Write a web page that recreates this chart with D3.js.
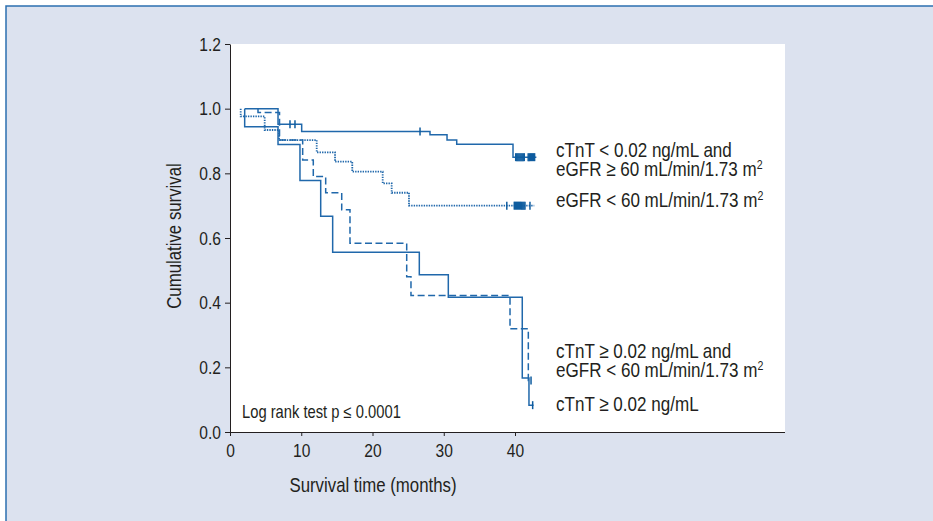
<!DOCTYPE html>
<html>
<head>
<meta charset="utf-8">
<script src="https://cdn.jsdelivr.net/npm/d3@7/dist/d3.min.js"></script>
<style>
  body { margin: 0; background: #fff; }
  svg text { font-family: "Liberation Sans", Arial, sans-serif; fill: #231f20; }
</style>
</head>
<body>
<script>
'use strict';

// Kaplan-Meier steps (months, cumulative survival)
const timesLowRisk = [2.06, 6.74, 10.06, 28.07, 30.46, 31.82, 39.72, 43.0]
const survLowRisk = [1.0, 0.952, 0.929, 0.919, 0.903, 0.890, 0.850, 0.850]
const censorLowRisk = [8.42, 9.12, 26.67, 40.1, 40.25, 40.4, 40.55, 40.7, 40.85, 41.0, 41.15, 41.3,
  41.85, 42.0, 42.15, 42.3, 42.45, 42.6, 42.75]

const timesEgfr = [1.5, 1.5, 4.87, 6.88, 12.17, 14.74, 17.16, 21.43, 22.69, 25.12, 42.7]
const survEgfr = [1.0, 0.976, 0.934, 0.903, 0.865, 0.836, 0.805, 0.769, 0.740, 0.700, 0.700]
const censorEgfr = [38.85, 39.9, 40.05, 40.2, 40.35, 40.5, 40.65, 40.8, 40.95, 41.1, 41.25, 41.4, 42.1]

const timesBoth = [3.93, 3.93, 6.95, 10.2, 11.69, 13.43, 15.68, 16.84, 24.8, 25.4, 39.3, 41.87, 42.4]
const survBoth = [1.0, 0.988, 0.903, 0.841, 0.790, 0.740, 0.687, 0.584, 0.480, 0.422, 0.319, 0.159, 0.159]
const censorBoth = [42.25]

const timesTnt = [2.06, 2.06, 6.74, 9.82, 12.73, 14.41, 26.57, 30.64, 41.02, 41.96, 42.6]
const survTnt = [1.0, 0.944, 0.889, 0.778, 0.667, 0.556, 0.486, 0.417, 0.167, 0.083, 0.083]
const censorTnt = [42.48]

const xTicks = [0, 10, 20, 30, 40]
const yTicks = [0, 0.2, 0.4, 0.6, 0.8, 1.0, 1.2]

const labelsLowRisk = [["cTnT < 0.02 ng/mL and"], ["eGFR \u2265 60 mL/min/1.73 m", "2"]]
const labelsEgfr = [["eGFR < 60 mL/min/1.73 m", "2"]]
const labelsBoth = [["cTnT \u2265 0.02 ng/mL and"], ["eGFR < 60 mL/min/1.73 m", "2"]]
const labelsTnt = [["cTnT \u2265 0.02 ng/mL"]]

const m = {
  width: 933,
  height: 521,
  left: 230,
  right: 785,
  top: 44,
  bottom: 432
}
const lineColor = '#2068ab'
const narrow = 0.82   // the figure uses a condensed face

const svg = d3.select('body')
  .append('svg')
  .attr('width', m.width)
  .attr('height', m.height)

// panel background with blue top/left rule
svg.append('rect')
  .attr('x', 6).attr('y', 6)
  .attr('width', m.width - 6).attr('height', m.height - 6)
  .style('fill', '#dce2ef')
svg.append('path')
  .attr('d', `M6,${m.height}V6H${m.width}`)
  .style('fill', 'none')
  .style('stroke', '#2b6fb0')
  .style('stroke-width', 1.5)

const xScale = d3.scaleLinear().domain([0, 40]).range([m.left, 515])
const yScale = d3.scaleLinear().domain([0, 1.2]).range([m.bottom, m.top])

svg.append('rect')
  .attr('x', m.left).attr('y', m.top)
  .attr('width', m.right - m.left).attr('height', m.bottom - m.top)
  .style('fill', '#fff')

function narrowText(x, y, size, rotate) {
  return svg.append('text')
    .attr('transform', `translate(${x}, ${y})` + (rotate ? `rotate(${rotate})` : '') + `scale(${narrow}, 1)`)
    .style('font-size', size + 'px')
}

const curves = [
  { times: timesLowRisk, surv: survLowRisk, censor: censorLowRisk, dash: null, labels: labelsLowRisk, labelY: 157 },
  { times: timesEgfr, surv: survEgfr, censor: censorEgfr, dash: '1.4,1.1', labels: labelsEgfr, labelY: 207 },
  { times: timesBoth, surv: survBoth, censor: censorBoth, dash: '7,3.5', labels: labelsBoth, labelY: 358 },
  { times: timesTnt, surv: survTnt, censor: censorTnt, dash: null, labels: labelsTnt, labelY: 411 }
]

const line = d3.line()
  .x(d => xScale(d[0]))
  .y(d => yScale(d[1]))
  .curve(d3.curveStepAfter)

function survAt(c, t) {
  let i = d3.bisectRight(c.times, t) - 1
  return c.surv[Math.max(0, i)]
}

curves.forEach(c => {
  svg.append('path')
    .datum(c.times.map((t, i) => [t, c.surv[i]]))
    .attr('d', line)
    .style('fill', 'none')
    .style('stroke', lineColor)
    .style('stroke-width', c.dash === '1.4,1.1' ? 1.8 : 1.5)
    .style('stroke-dasharray', c.dash)

  svg.selectAll(null)
    .data(c.censor)
    .enter().append('line')
    .attr('x1', d => xScale(d)).attr('x2', d => xScale(d))
    .attr('y1', d => yScale(survAt(c, d)) - 4)
    .attr('y2', d => yScale(survAt(c, d)) + 4)
    .style('stroke', '#0e5c9f')
    .style('stroke-width', 1.5)

  // one text element per label, one tspan row per line
  let t = narrowText(556, c.labelY, 20.8)
  c.labels.forEach((row, i) => {
    t.append('tspan').attr('x', 0).attr('y', i * 19).text(row[0])
    if (row[1]) {
      t.append('tspan').attr('dy', -7).style('font-size', '13px').text(row[1])
    }
  })
})

// axes
svg.append('g')
  .attr('transform', `translate(0, ${m.bottom})`)
  .call(d3.axisBottom(xScale).tickValues(xTicks).tickSize(4).tickPadding(8).tickSizeOuter(0))
  .call(g => g.select('.domain').attr('d', `M${m.left},0.5H${m.right}`))
  .selectAll('text')
    .style('font-size', '19px')
    .attr('transform', `scale(${narrow}, 1)`)

svg.append('g')
  .attr('transform', `translate(${m.left}, 0)`)
  .call(d3.axisLeft(yScale).tickValues(yTicks).tickFormat(d3.format('.1f')).tickSize(5).tickPadding(6).tickSizeOuter(0))
  .selectAll('text')
    .style('font-size', '19px')
    .attr('transform', `scale(${narrow}, 1)`)

svg.selectAll('.domain, .tick line').style('stroke', '#231f20')

narrowText(373, 492, 20.5)
  .attr('text-anchor', 'middle')
  .text('Survival time (months)')

narrowText(181, 236, 20.5, -90)
  .attr('text-anchor', 'middle')
  .text('Cumulative survival')

narrowText(242, 418, 18)
  .text('Log rank test p \u2264 0.0001')
</script>
</body>
</html>
